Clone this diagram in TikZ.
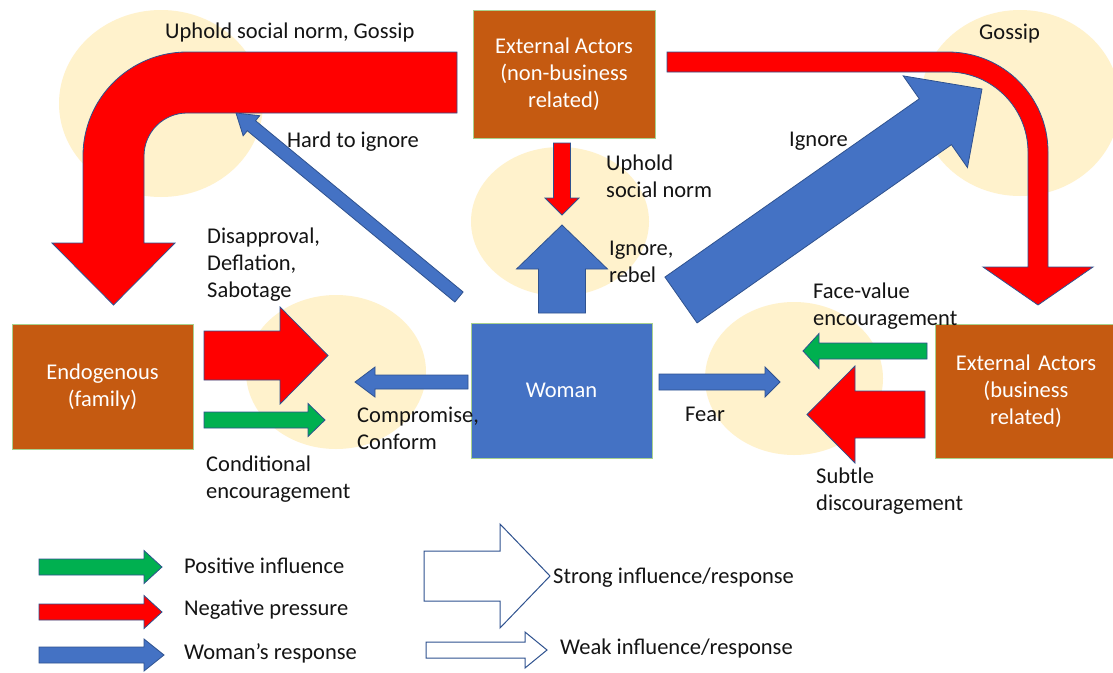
\documentclass[tikz,border=0pt]{standalone}
\usepackage{fontspec}
\setmainfont{Carlito}
\usetikzlibrary{calc}
\definecolor{rd}{HTML}{FF0000}
\definecolor{bl}{HTML}{4472C4}
\definecolor{gr}{HTML}{00B050}
\definecolor{org}{HTML}{C55A11}
\definecolor{pale}{HTML}{FFF2CC}
\definecolor{edgeblue}{HTML}{2F528F}
\definecolor{boxedge}{HTML}{A9D18E}
\definecolor{txt}{HTML}{141414}
% block arrow: #1 style, #2 tail coord, #3 tip coord, #4 half shaft, #5 half head, #6 head length
\newcommand\blockarr[6]{%
  \coordinate (#3-base) at ($(#3)!#6!(#2)$);
  \path[#1] ($(#2)!#4!90:(#3)$) -- ($(#3-base)!#4!-90:(#2)$) -- ($(#3-base)!#5!-90:(#2)$) -- (#3)
    -- ($(#3-base)!#5!90:(#2)$) -- ($(#3-base)!#4!90:(#2)$) -- ($(#2)!#4!-90:(#3)$) -- cycle;}
\begin{document}
\begin{tikzpicture}[x=1pt,y=-1pt,
  redarr/.style={fill=rd, draw=edgeblue, line width=0.8pt, line join=miter},
  bluearr/.style={fill=bl, draw=edgeblue, line width=0.8pt},
  greenarr/.style={fill=gr, draw=edgeblue, line width=0.8pt},
  outarr/.style={fill=white, draw=edgeblue, line width=1pt},
  halo/.style={fill=pale},
  actor/.style={rectangle, draw=boxedge, line width=0.8pt, text=white, align=center, inner sep=0pt,
    font=\fontsize{22.5}{27}\selectfont},
  lbl/.style={anchor=west, align=left, inner sep=0pt, text=txt, font=\fontsize{22.5}{27}\selectfont}]
\path[use as bounding box, clip] (0,0) rectangle (1113,672);
\fill[white] (0,0) rectangle (1113,672);
% halos
\fill[halo] (161,103.5) ellipse [x radius=102pt, y radius=93.5pt];
\fill[halo] (560,221.5) ellipse [x radius=89pt, y radius=74.5pt];
\fill[halo] (1020,103) ellipse [x radius=100pt, y radius=93pt];
\fill[halo] (336,372) ellipse [x radius=90pt, y radius=77pt];
\fill[halo] (794,378.5) ellipse [x radius=89pt, y radius=76.5pt];
% bent arrows
\path[redarr] (457,52) -- (187,52) arc[start angle=90,end angle=180,radius=104pt] -- (83,243) -- (52,243)
  -- (113.5,305) -- (175,243) -- (144,243) -- (144,156) arc[start angle=180,end angle=90,radius=43pt]
  -- (457,113) -- cycle;
\path[redarr] (667,52) -- (948,52) arc[start angle=90,end angle=0,radius=100pt] -- (1048,267) -- (1093,267)
  -- (1038,305) -- (983,267) -- (1028,267) -- (1028,152) arc[start angle=0,end angle=90,radius=80pt]
  -- (667,72) -- cycle;
% straight arrows
\coordinate (dA) at (204,355.5); \coordinate (dB) at (328,355.5);
\blockarr{redarr}{dA}{dB}{24.5pt}{48.5pt}{48pt}
\coordinate (cA) at (204,420); \coordinate (cB) at (325,420);
\blockarr{greenarr}{cA}{cB}{8pt}{16.5pt}{17pt}
\coordinate (mA) at (468,382); \coordinate (mB) at (355,382);
\blockarr{bluearr}{mA}{mB}{7pt}{15pt}{20pt}
\coordinate (fA) at (659,382); \coordinate (fB) at (780,382);
\blockarr{bluearr}{fA}{fB}{8pt}{15pt}{15pt}
\coordinate (vA) at (927,351); \coordinate (vB) at (803,351);
\blockarr{greenarr}{vA}{vB}{8pt}{17.5pt}{16pt}
\coordinate (sA) at (925,414.5); \coordinate (sB) at (807,414.5);
\blockarr{redarr}{sA}{sB}{23.5pt}{48.5pt}{48pt}
\coordinate (uA) at (562,143); \coordinate (uB) at (562,215);
\blockarr{redarr}{uA}{uB}{8.5pt}{17pt}{17pt}
\coordinate (rA) at (562,313); \coordinate (rB) at (562,225);
\blockarr{bluearr}{rA}{rB}{23.5pt}{45.5pt}{44pt}
\coordinate (hA) at (459,297); \coordinate (hB) at (236,113);
\blockarr{bluearr}{hA}{hB}{6.5pt}{13pt}{20pt}
\coordinate (gA) at (681,300); \coordinate (gB) at (982,89);
\blockarr{bluearr}{gA}{gB}{28pt}{56pt}{57pt}
% legend arrows
\coordinate (l1A) at (39,567); \coordinate (l1B) at (162,567);
\blockarr{greenarr}{l1A}{l1B}{8pt}{16.5pt}{18pt}
\coordinate (l2A) at (39,612); \coordinate (l2B) at (162,612);
\blockarr{redarr}{l2A}{l2B}{8pt}{16.5pt}{18pt}
\coordinate (l3A) at (39,655); \coordinate (l3B) at (164,655);
\blockarr{bluearr}{l3A}{l3B}{8pt}{16pt}{20pt}
\coordinate (l4A) at (424,576); \coordinate (l4B) at (550,576);
\blockarr{outarr}{l4A}{l4B}{25pt}{52pt}{50pt}
\coordinate (l5A) at (426,650); \coordinate (l5B) at (547,650);
\blockarr{outarr}{l5A}{l5B}{8pt}{18pt}{22pt}
% boxes
\node[actor, fill=org, minimum width=182pt, minimum height=128pt] (nonbiz) at (564,74)
  {External Actors\\(non-business\\related)};
\node[actor, fill=org, minimum width=181pt, minimum height=125pt] (endo) at (102.5,386.5)
  {Endogenous\\(family)};
\node[actor, fill=bl, minimum width=181pt, minimum height=135pt] (woman) at (561.5,390.5) {Woman};
\node[actor, fill=org, minimum width=182pt, minimum height=134pt, text width=182pt] (biz) at (1026,391)
  {External Actors\\(business\\related)};
% labels
\node[lbl] (t1) at (165,32) {Uphold social norm, Gossip};
\node[lbl] (t2) at (287,142) {Hard to ignore};
\node[lbl] (t3) at (207,265) {Disapproval,\\Deflation,\\Sabotage};
\node[lbl] (t4) at (206,479) {Conditional\\encouragement};
\node[lbl] (t5) at (357,428.5) {Compromise,\\Conform};
\node[lbl] (t6) at (606,176) {Uphold\\social norm};
\node[lbl] (t7) at (609,261.5) {Ignore,\\rebel};
\node[lbl] (t8) at (789,141) {Ignore};
\node[lbl] (t9) at (979,34) {Gossip};
\node[lbl] (t10) at (813,306.5) {Face-value\\encouragement};
\node[lbl] (t11) at (685,414) {Fear};
\node[lbl] (t12) at (816,491.5) {Subtle\\discouragement};
\node[lbl] (k1) at (184,566) {Positive influence};
\node[lbl] (k2) at (184,610) {Negative pressure};
\node[lbl] (k3) at (184,653) {Woman’s response};
\node[lbl] (k4) at (553,578) {Strong influence/response};
\node[lbl] (k5) at (560,648) {Weak influence/response};
\end{tikzpicture}
\end{document}
